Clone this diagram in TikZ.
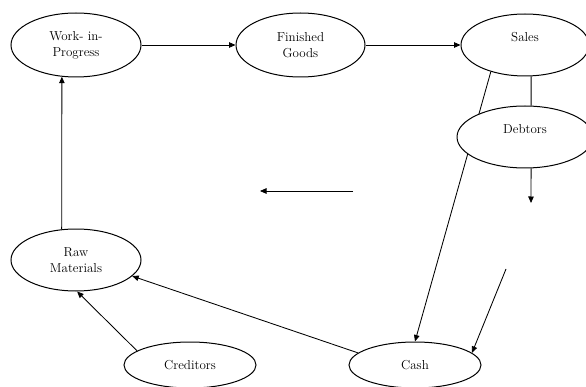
\documentclass[tikz,border=0pt]{standalone}
\usetikzlibrary{shapes.geometric,arrows.meta}
\begin{document}
\begin{tikzpicture}[x=1pt,y=1pt,
  every node/.style={font=\fontsize{13}{16}\selectfont},
  blob/.style={draw, ellipse, line width=1pt, fill=white, inner sep=0pt, align=center},
  conn/.style={line width=0.85pt},
  arr/.style={conn, -{Triangle[length=6.5pt,width=5.5pt]}}]
\useasboundingbox (0,0) rectangle (586,386);
% nodes (y = 386 - pixel row)
\node[blob, minimum width=130pt, minimum height=64pt] (wip) at (76,341) {Work- in-\\Progress};
\node[blob, minimum width=129pt, minimum height=64pt] (fg) at (300.5,341) {Finished\\Goods};
\node[blob, minimum width=128pt, minimum height=62pt] (sales) at (525,341) {Sales\\\phantom{X}};
\node[blob, minimum width=130pt, minimum height=62pt] (raw) at (76,126) {Raw\\Materials};
\node[blob, minimum width=132pt, minimum height=46pt] (cred) at (190,21) {Creditors};
\node[blob, minimum width=132pt, minimum height=46pt] (cash) at (415,21) {Cash};
% Sales -> Cash passes behind Debtors
\draw[arr] (sales.218) -- (cash.north);
\node[blob, minimum width=136pt, minimum height=62pt] (debt) at (525,249) {Debtors\\\phantom{X}};
% free ends
\coordinate (dend) at (531,183);
\coordinate (dstart) at (506,117);
\coordinate (fa) at (353,195);
\coordinate (fb) at (260,195);
% connectors
\draw[arr] (wip.east) -- (fg.west);
\draw[arr] (fg.east) -- (sales.west);
\draw[arr] (raw.115) -- (wip.246);
\draw[arr] (cred.165) -- (raw.272);
\draw[arr] (cash.168) -- (raw.344);
\draw[conn] (sales.281) -- (debt.79);
\draw[arr] (debt.281) -- (dend);
\draw[arr] (dstart) -- (cash.12);
\draw[arr] (fa) -- (fb);
\end{tikzpicture}
\end{document}
